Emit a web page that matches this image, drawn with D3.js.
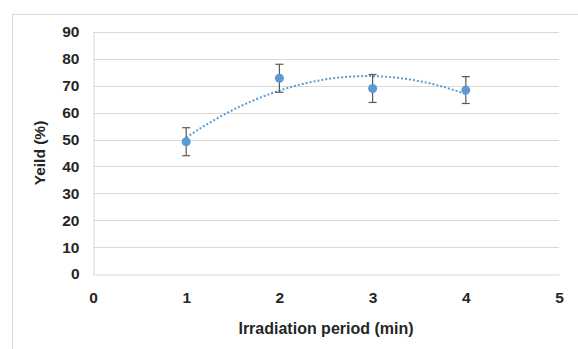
<!DOCTYPE html>
<html><head><meta charset="utf-8">
<script src="https://cdn.jsdelivr.net/npm/d3@7"></script>
<style>body{margin:0;background:#fff}svg{display:block}text{font-family:"Liberation Sans",Arial,sans-serif;font-weight:bold;fill:#262626}</style>
</head><body>
<svg id="c" width="578" height="349"></svg>
<script>
const periods = [1, 2, 3, 4];
const yieldVals = [49.2, 72.8, 69.0, 68.4];
const yieldErr = [5.2, 5.2, 5.2, 5.0];
const xTicks = [0, 1, 2, 3, 4, 5];
const yTicks = [0, 10, 20, 30, 40, 50, 60, 70, 80, 90];

const svg = d3.select("#c");
const W = 578, H = 349;
svg.append("rect").attr("x", 12.5).attr("y", 14.5).attr("width", W).attr("height", H)
  .attr("fill", "#fff").attr("stroke", "#d9d9d9");

const x = d3.scaleLinear().domain([0, 5]).range([93, 559]);
const y = d3.scaleLinear().domain([0, 90]).range([274, 32]);

// gridlines
svg.append("g").selectAll("line").data(yTicks.slice(1)).join("line")
  .attr("x1", x(0)).attr("x2", x(5)).attr("y1", d => Math.round(y(d)) + 0.5).attr("y2", d => Math.round(y(d)) + 0.5)
  .attr("stroke", "#d9d9d9").attr("stroke-width", 1);

// axes
const xa = svg.append("g").attr("transform", `translate(0,${Math.round(y(0)) + 0.5})`)
  .call(d3.axisBottom(x).tickValues(xTicks).tickSize(0).tickPadding(17).tickFormat(d3.format("d")));
xa.select(".domain").attr("stroke", "#d9d9d9");
xa.selectAll("text").attr("font-size", 15.5).style("font-family", '"Liberation Sans",Arial,sans-serif').style("font-weight", "bold").attr("fill", "#262626");

const ya = svg.append("g").attr("transform", `translate(${Math.round(x(0)) + 0.5},0)`)
  .call(d3.axisLeft(y).tickValues(yTicks).tickSize(0).tickPadding(14).tickFormat(d3.format("d")));
ya.select(".domain").attr("stroke", "#d9d9d9");
ya.selectAll("text").attr("font-size", 15.5).style("font-family", '"Liberation Sans",Arial,sans-serif').style("font-weight", "bold").attr("fill", "#262626");

// quadratic trendline (least squares fit of data)
function polyfit2(xs, ys) {
  let S = [0,0,0,0,0], T = [0,0,0];
  xs.forEach((xi, i) => {
    for (let k = 0; k < 5; k++) S[k] += Math.pow(xi, k);
    for (let k = 0; k < 3; k++) T[k] += Math.pow(xi, k) * ys[i];
  });
  const A = [[S[0],S[1],S[2],T[0]],[S[1],S[2],S[3],T[1]],[S[2],S[3],S[4],T[2]]];
  for (let i = 0; i < 3; i++) {
    for (let j = i + 1; j < 3; j++) {
      const f = A[j][i] / A[i][i];
      for (let k = i; k < 4; k++) A[j][k] -= f * A[i][k];
    }
  }
  const c = [0,0,0];
  for (let i = 2; i >= 0; i--) {
    let s = A[i][3];
    for (let k = i + 1; k < 3; k++) s -= A[i][k] * c[k];
    c[i] = s / A[i][i];
  }
  return c;
}
const coef = polyfit2(periods, yieldVals);
const trendX = d3.range(periods[0], periods[periods.length - 1] + 0.001, 0.05);
svg.append("path").datum(trendX)
  .attr("d", d3.line().x(d => x(d)).y(d => y(coef[0] + coef[1] * d + coef[2] * d * d)))
  .attr("fill", "none").attr("stroke", "#5b9bd5").attr("stroke-width", 2).attr("stroke-dasharray", "2,2");

// error bars
const eb = svg.append("g").attr("stroke", "#595959").attr("stroke-width", 1.2);
periods.forEach((p, i) => {
  const cx = x(p), top = y(yieldVals[i] + yieldErr[i]), bot = y(yieldVals[i] - yieldErr[i]);
  eb.append("line").attr("x1", cx).attr("x2", cx).attr("y1", top).attr("y2", bot);
  eb.append("line").attr("x1", cx - 4).attr("x2", cx + 4).attr("y1", top).attr("y2", top);
  eb.append("line").attr("x1", cx - 4).attr("x2", cx + 4).attr("y1", bot).attr("y2", bot);
});

// markers
svg.append("g").selectAll("circle").data(periods).join("circle")
  .attr("cx", d => x(d)).attr("cy", (d, i) => y(yieldVals[i])).attr("r", 4.5)
  .attr("fill", "#5b9bd5");

// titles
svg.append("text").attr("x", (x(0) + x(5)) / 2).attr("y", 334).attr("text-anchor", "middle")
  .attr("font-size", 16).text("Irradiation period (min)");
svg.append("text").attr("transform", `translate(45,${(y(0) + y(90)) / 2}) rotate(-90)`)
  .attr("text-anchor", "middle").attr("font-size", 15.5).text("Yeild (%)");
</script>
</body></html>
